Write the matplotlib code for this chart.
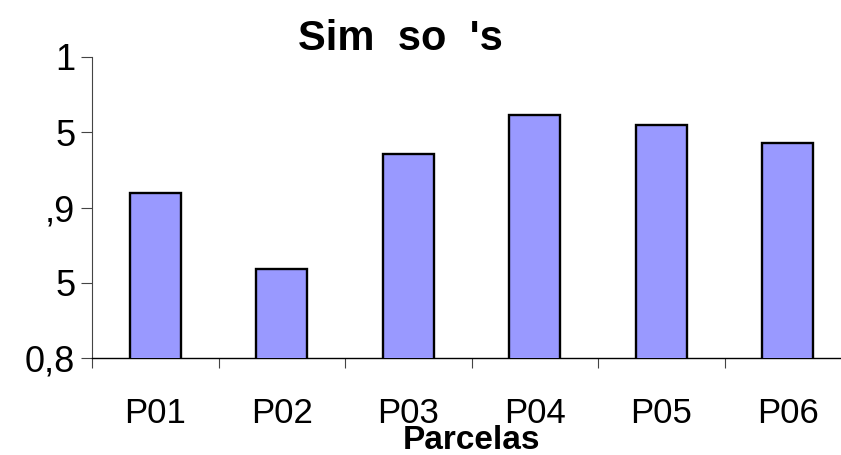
import matplotlib
matplotlib.use("Agg")
import matplotlib.pyplot as plt
import numpy as np

# data
parcelas = ["P01", "P02", "P03", "P04", "P05", "P06"]
simpson = [0.9096, 0.859, 0.9355, 0.9615, 0.9548, 0.9429]
ytick_vals = [0.8, 0.85, 0.9, 0.95, 1.0]
ytick_txt = ["0,8", "5", ",9", "5", "1"]

plt.rcParams['font.family'] = ['Liberation Sans', 'DejaVu Sans']

fig = plt.figure(figsize=(8.41, 4.55), dpi=100)
ax = fig.add_axes([92 / 841, 97 / 455, 759 / 841, 301 / 455])

x = np.arange(len(parcelas))
ax.bar(x, simpson, width=0.4, color="#9999ff", edgecolor="black", linewidth=1.7, zorder=3)

ax.set_xlim(-0.5, len(parcelas) - 0.5)
ax.set_ylim(0.8, 1.0)

ax.spines['top'].set_visible(False)
ax.spines['right'].set_visible(False)
ax.spines['left'].set_linewidth(0.8)
ax.spines['left'].set_color("#444444")
ax.spines['bottom'].set_linewidth(1.0)

ax.set_yticks(ytick_vals)
ax.set_yticklabels(ytick_txt, fontsize=26)
ax.tick_params(axis='y', length=8, width=0.8, color="#444444", pad=4)

# labels at bar centres, ticks between categories
ax.set_xticks(x)
ax.set_xticklabels(parcelas, fontsize=25)
ax.tick_params(axis='x', which='major', length=0, pad=28)
ax.set_xticks(np.arange(len(parcelas)) - 0.5, minor=True)
ax.tick_params(axis='x', which='minor', length=7.5, width=0.8, color="#444444")

fig.text(400 / 841, (455 - 50) / 455, "Sim  so  's", fontsize=30, fontweight='bold',
         ha='center', va='baseline')
fig.text(471 / 841, (455 - 449) / 455, "Parcelas", fontsize=24, fontweight='bold',
         ha='center', va='baseline')

fig.savefig("out.png", dpi=100)
